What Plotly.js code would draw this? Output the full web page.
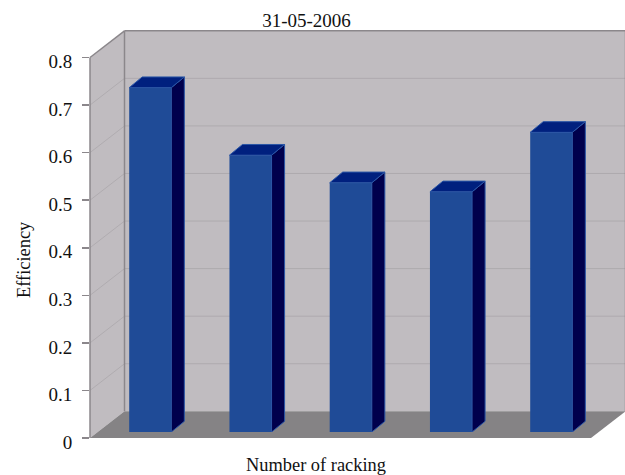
<!DOCTYPE html>
<html>
<head>
<meta charset="utf-8">
<script src="https://cdn.plot.ly/plotly-3.0.1.min.js"></script>
<style>html,body{margin:0;padding:0;background:#fff}</style>
</head>
<body>
<div id="chart" style="width:625px;height:475px"></div>
<script>
// Efficiency per racking run, 31-05-2006
const racking = [1, 2, 3, 4, 5];
const efficiency = [0.724, 0.582, 0.524, 0.505, 0.63];
const tickValues = [0, 0.1, 0.2, 0.3, 0.4, 0.5, 0.6, 0.7, 0.8];
const tickLabels = ['0', '0.1', '0.2', '0.3', '0.4', '0.5', '0.6', '0.7', '0.8'];

// Page geometry of the pseudo-3D box
const W = 625, H = 475;
const box = {left: 90, right: 591, bottom: 438, top: 57.5, dx: 34.5, dy: 26.7};
const margin = {l: 90, r: 625 - 624, t: 31, b: 475 - 438, pad: 0};
const plotW = W - margin.l - margin.r, plotH = H - margin.t - margin.b;
const px = x => (x - margin.l) / plotW;
const py = y => (H - margin.b - y) / plotH;

// Bar footprint, in axis units
const barWidth = 0.42, depthX = 0.13, depthY = 0.0225;

const colors = {
  wall: '#c0bcc0', floor: '#858385', frame: '#8b878b', grid: '#aeaaae', sideGrid: '#b0acb0',
  front: '#1f4b97', side: '#00004c', top: '#00207e', edge: '#2a56a6', text: '#111111'
};

const poly = pts => 'M' + pts.map(p => px(p[0]) + ',' + py(p[1])).join('L') + 'Z';
const backL = box.left + box.dx, backR = box.right + box.dx;
const backT = box.top - box.dy, backB = box.bottom - box.dy;

const shapes = [
  {type: 'path', xref: 'paper', yref: 'paper', layer: 'below', line: {width: 0}, fillcolor: colors.wall,
   path: poly([[backL, backT], [backR, backT], [backR, backB], [backL, backB]])},
  {type: 'path', xref: 'paper', yref: 'paper', layer: 'below', line: {width: 0}, fillcolor: colors.wall,
   path: poly([[box.left, box.top], [backL, backT], [backL, backB], [box.left, box.bottom]])},
  {type: 'path', xref: 'paper', yref: 'paper', layer: 'below', line: {width: 0}, fillcolor: colors.floor,
   path: poly([[box.left, box.bottom], [box.right, box.bottom], [backR, backB], [backL, backB]])}
];

// Gridlines on the back wall and their diagonals on the side wall
tickValues.slice(1, -1).forEach(v => {
  const f = v / 0.8;
  const yBack = backB - f * (backB - backT), yFront = box.bottom - f * (box.bottom - box.top);
  shapes.push({type: 'line', xref: 'paper', yref: 'paper', layer: 'below', line: {color: colors.grid, width: 1},
    x0: px(backL), x1: px(backR), y0: py(yBack), y1: py(yBack)});
  shapes.push({type: 'line', xref: 'paper', yref: 'paper', layer: 'below', line: {color: colors.sideGrid, width: 1},
    x0: px(box.left), x1: px(backL), y0: py(yFront), y1: py(yBack)});
});

// Frame edges of the box
[[[box.left, box.top], [backL, backT]], [[backL, backT], [backR, backT]], [[backL, backT], [backL, backB]],
 [[backR, backT], [backR, backB]], [[box.left, box.bottom], [box.left, box.top]]].forEach(s => {
  shapes.push({type: 'line', xref: 'paper', yref: 'paper', layer: 'below', line: {color: colors.frame, width: 1.5},
    x0: px(s[0][0]), y0: py(s[0][1]), x1: px(s[1][0]), y1: py(s[1][1])});
});

const fontFamily = '"Liberation Serif", "Times New Roman", serif';

// Top and side faces follow each bar's value
const faces = [];
racking.forEach((r, i) => {
  const v = efficiency[i], x1 = r + barWidth / 2, x0 = r - barWidth / 2;
  faces.push({type: 'scatter', mode: 'lines', x: [x1, x1 + depthX, x1 + depthX, x1, x1], y: [0, depthY, v + depthY, v, 0],
    xaxis: 'x', yaxis: 'y2', fill: 'toself', fillcolor: colors.side, line: {color: colors.edge, width: 1},
    hoverinfo: 'skip', showlegend: false});
  faces.push({type: 'scatter', mode: 'lines', x: [x0, x0 + depthX, x1 + depthX, x1, x0], y: [v, v + depthY, v + depthY, v, v],
    xaxis: 'x', yaxis: 'y2', fill: 'toself', fillcolor: colors.top, line: {color: colors.edge, width: 1},
    hoverinfo: 'skip', showlegend: false});
});

const bars = {
  type: 'bar', x: racking, y: efficiency, width: barWidth, xaxis: 'x', yaxis: 'y2',
  marker: {color: colors.front, line: {width: 0}}, hoverinfo: 'x+y', showlegend: false
};

// Carries the front tick scale so that the axis gets drawn
const scaleCarrier = {
  type: 'scatter', mode: 'none', x: racking, y: efficiency, xaxis: 'x', yaxis: 'y',
  hoverinfo: 'skip', showlegend: false
};

const axisTitle = (text, x, y, angle) => ({
  text: text, xref: 'paper', yref: 'paper', x: px(x), y: py(y), xanchor: 'center', yanchor: 'middle',
  showarrow: false, textangle: angle, font: {family: fontFamily, size: 18.4, color: colors.text}
});

const layout = {
  width: W, height: H, margin: margin, paper_bgcolor: '#ffffff', plot_bgcolor: 'rgba(0,0,0,0)',
  showlegend: false, shapes: shapes,
  font: {family: fontFamily, color: colors.text},
  title: {text: '31-05-2006', font: {family: fontFamily, size: 19, color: colors.text},
          x: 306.5 / W, xanchor: 'center', y: 1 - 20 / H, yanchor: 'middle'},
  annotations: [
    axisTitle('Number of racking', 316, 465, 0),
    axisTitle('Efficiency', 24, 260, -90)
  ],
  xaxis: {
    range: [1 + (margin.l - 150.25) / 100.25, 1 + (W - margin.r - 150.25) / 100.25],
    domain: [0, 1], anchor: 'y', showgrid: false, zeroline: false, showline: false, ticks: '', showticklabels: false
  },
  yaxis: {
    range: [0, 0.8], domain: [0, (box.bottom - box.top) / plotH], anchor: 'x',
    tickmode: 'array', tickvals: tickValues, ticktext: tickLabels,
    ticks: 'outside', ticklen: 7, tickwidth: 1.5, tickcolor: colors.frame,
    tickfont: {family: fontFamily, size: 19, color: colors.text}, ticklabelstandoff: 6, ticklabelshift: 4,
    showgrid: false, zeroline: false, showline: false
  },
  yaxis2: {
    range: [0, 0.8], domain: [(box.bottom - 432) / plotH, (box.bottom - box.top + 6) / plotH],
    anchor: 'x', visible: false
  }
};

Plotly.newPlot('chart', [bars, scaleCarrier].concat(faces), layout, {displayModeBar: false, staticPlot: true});
</script>
</body>
</html>
